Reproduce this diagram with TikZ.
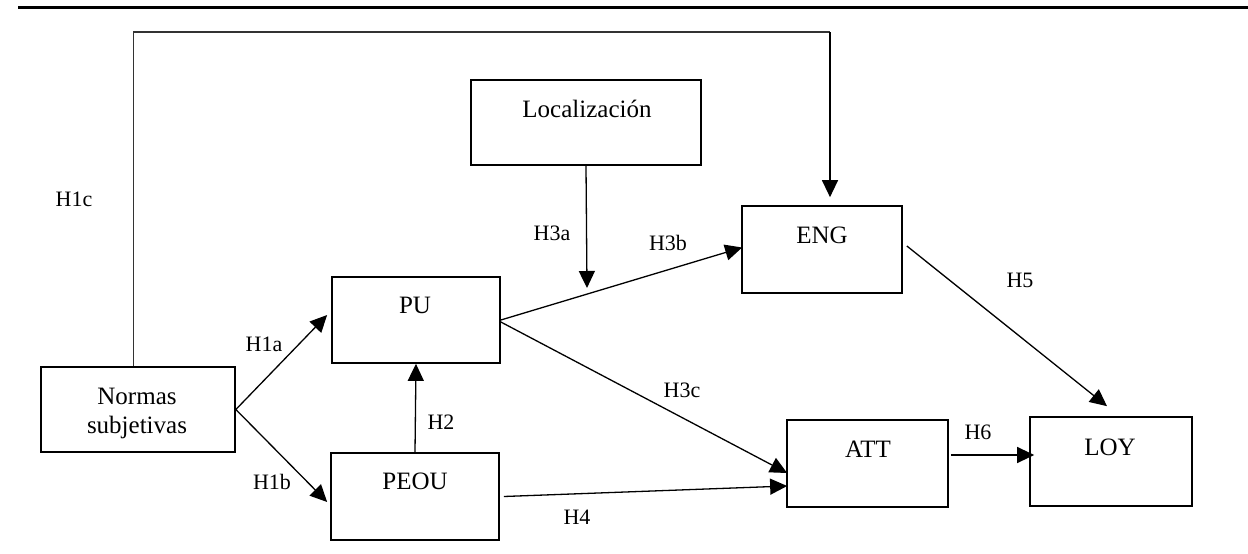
\documentclass[tikz,border=0pt]{standalone}
\usepackage{fontspec}
\setmainfont{Liberation Serif}
\usetikzlibrary{arrows.meta}
\begin{document}
\begin{tikzpicture}[x=1pt,y=-1pt,
  box/.style={draw, line width=1.7pt, inner sep=0pt, minimum width=#1},
  boxtext/.style={anchor=base, inner sep=0pt, font=\fontsize{25}{29}\selectfont},
  hyp/.style={anchor=base, inner sep=0pt, font=\fontsize{22}{26}\selectfont},
  link/.style={line width=1.3pt, -{Triangle[length=17pt,width=16pt]}},
  plain/.style={line width=1.3pt, draw=black!80}]
\useasboundingbox (0,0) rectangle (1248,554);

% rule above the figure
\coordinate (ruleL) at (18,7.3);
\coordinate (ruleR) at (1248,7.3);
\draw[line width=2.4pt] (ruleL) -- (ruleR);

% constructs
\node[box=194pt, minimum height=85pt] (nm)   at (138,409.5) {};
\node[box=168pt, minimum height=86pt] (pu)   at (416,320)   {};
\node[box=168pt, minimum height=87pt] (peou) at (415,496.5) {};
\node[box=230pt, minimum height=85pt] (loc)  at (586,122.5) {};
\node[box=160pt, minimum height=87pt] (eng)  at (822,249.5) {};
\node[box=161pt, minimum height=87pt] (att)  at (867.5,463.5) {};
\node[box=162pt, minimum height=89pt] (loy)  at (1111,461.5) {};

% construct names
\node[boxtext] (nm-t1)   at (137,404) {Normas};
\node[boxtext] (nm-t2)   at (137,433) {subjetivas};
\node[boxtext] (pu-t)    at (415,313) {PU};
\node[boxtext] (peou-t)  at (415,489) {PEOU};
\node[boxtext] (loc-t)   at (587,117) {Localización};
\node[boxtext] (eng-t)   at (822,243) {ENG};
\node[boxtext] (att-t)   at (868,457) {ATT};
\node[boxtext] (loy-t)   at (1110,455) {LOY};

% path of H1c over the top
\coordinate (c1) at (133.5,32);
\coordinate (c2) at (830,32);
\draw[plain] ([xshift=-4.5pt]nm.north) -- (c1) -- (c2);
\draw[link] (c2) -- ([xshift=8pt,yshift=8pt]eng.north);

% moderating arrow of Localización
\coordinate (mod) at (587,288);
\draw[link] (loc.south) -- (mod);

% hypothesised paths
\draw[link] (nm.east) -- ([xshift=-4pt,yshift=5pt]pu.west);
\draw[link] (nm.east) -- ([xshift=-3pt,yshift=-5.5pt]peou.west);
\draw[link] (peou.north) -- (pu.south);
\draw[link] (pu.east) -- ([xshift=1pt,yshift=2pt]eng.west);
\draw[link] ([yshift=-2pt]pu.east) -- ([xshift=1pt,yshift=-9.5pt]att.west);
\draw[link] ([xshift=4pt]peou.east) -- ([xshift=1pt,yshift=-22.5pt]att.west);
\draw[link] ([xshift=4pt,yshift=3.5pt]eng.east) -- ([xshift=-4pt,yshift=10pt]loy.north);
\draw[link] ([xshift=2pt,yshift=8.5pt]att.east) -- ([xshift=5pt,yshift=6.5pt]loy.west);

% hypothesis labels
\node[hyp] (h1c) at (74,206)  {H1c};
\node[hyp] (h1a) at (264,351) {H1a};
\node[hyp] (h1b) at (272,489) {H1b};
\node[hyp] (h2)  at (441,429) {H2};
\node[hyp] (h3a) at (552,240) {H3a};
\node[hyp] (h3b) at (668,250) {H3b};
\node[hyp] (h3c) at (682,397) {H3c};
\node[hyp] (h4)  at (577,524) {H4};
\node[hyp] (h5)  at (1020,287) {H5};
\node[hyp] (h6)  at (978,439) {H6};
\end{tikzpicture}
\end{document}
